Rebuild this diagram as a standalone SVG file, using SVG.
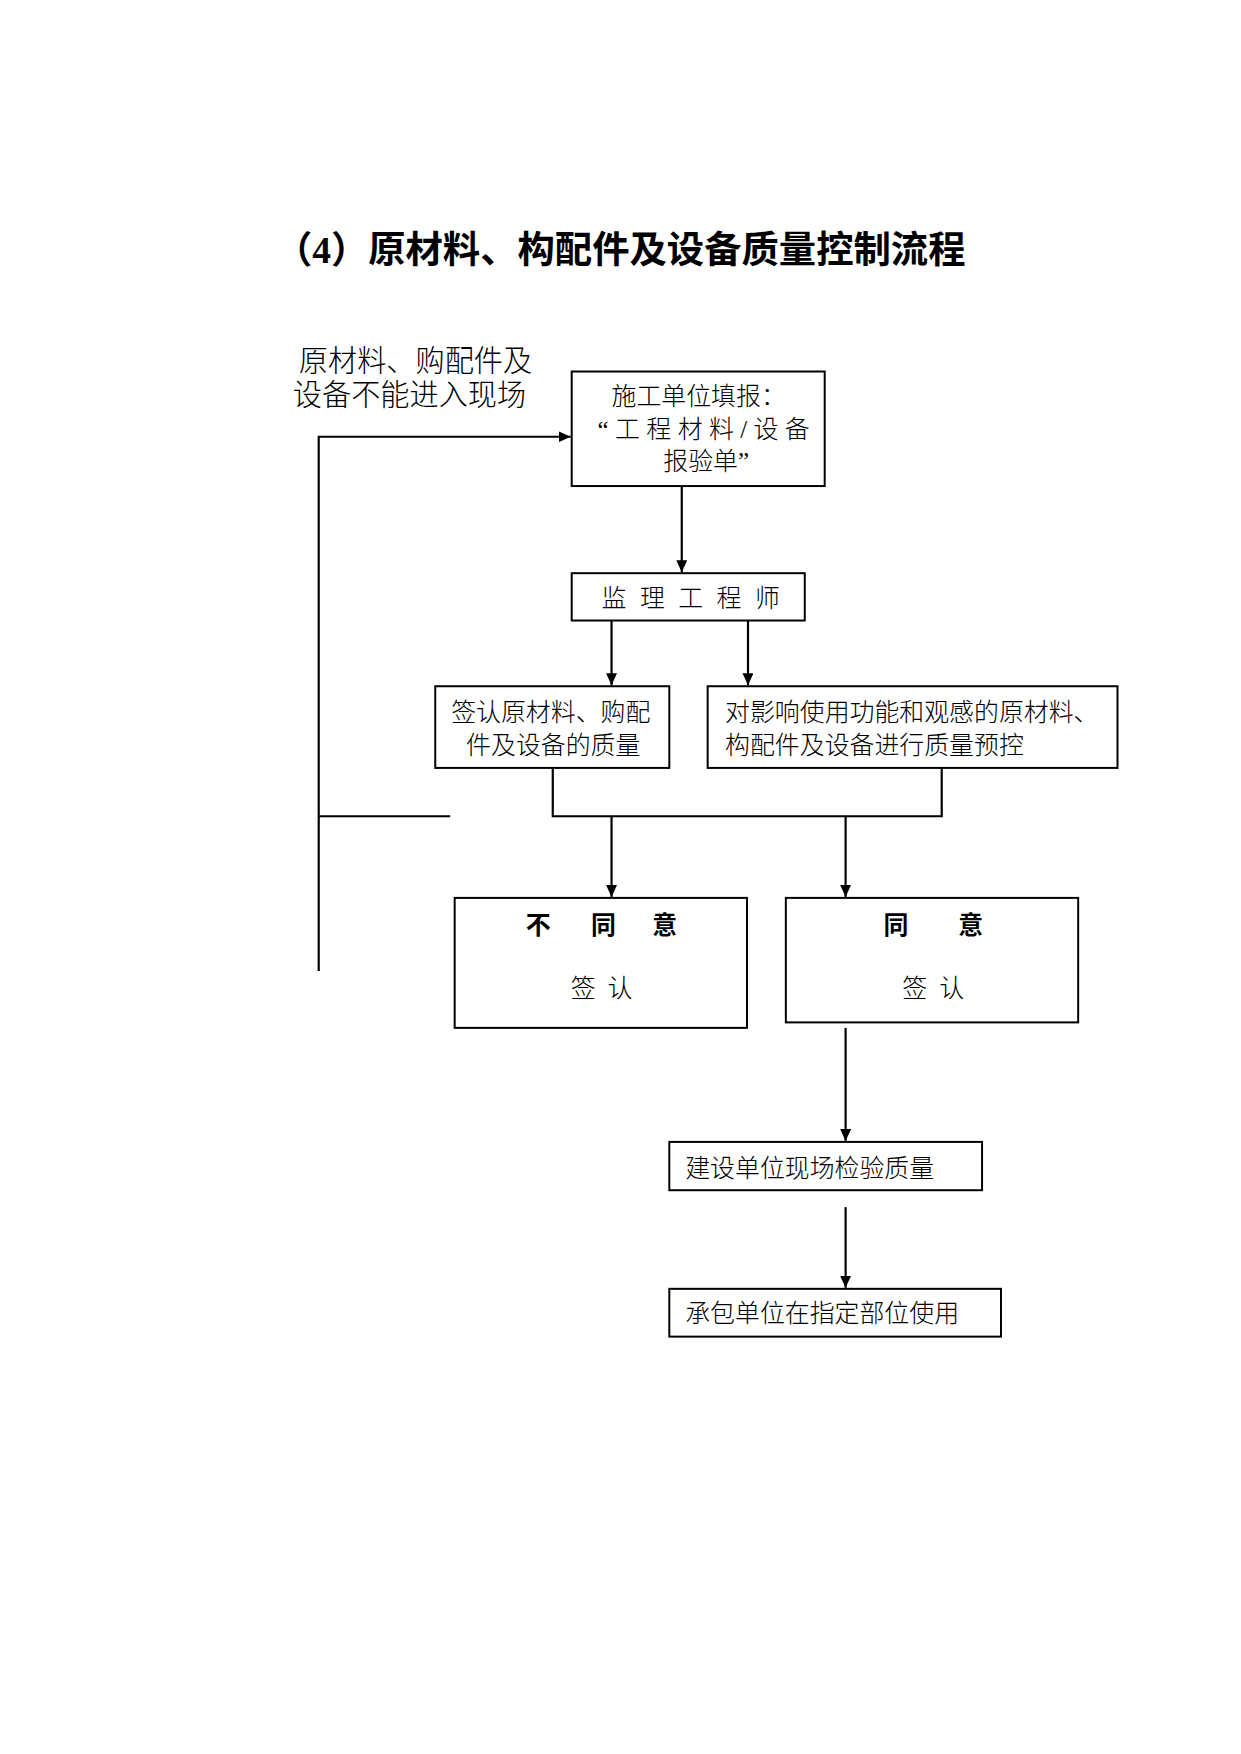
<svg xmlns="http://www.w3.org/2000/svg" width="1241" height="1754" viewBox="0 0 1241 1754">
<defs>
<marker id="ah" markerWidth="13" markerHeight="12" refX="12" refY="5.5" orient="auto" markerUnits="userSpaceOnUse">
<path d="M0,0 L12,5.5 L0,11 Z" fill="#000"/>
</marker>
<style>
.t{font-family:"Liberation Serif","Noto Sans CJK SC",serif;fill:#000;}
.n{font-size:25px;font-weight:300;}
.b{font-weight:bold;}
.box{fill:#fff;stroke:#000;stroke-width:2;}
.ln{fill:none;stroke:#000;stroke-width:2.2;}
.arr{fill:none;stroke:#000;stroke-width:2.2;marker-end:url(#ah);}
</style>
</defs>
<rect width="1241" height="1754" fill="#fff"/>
<g transform="scale(0.996)">
<text class="t" x="276" y="264" font-size="37.5" font-weight="bold">（4）原材料、构配件及设备质量控制流程</text>
<g id="label-reject">
<text class="t" x="300" y="373" font-size="29.3" font-weight="300">原材料、购配件及</text>
<text class="t" x="294" y="407" font-size="29.3" font-weight="300">设备不能进入现场</text>
</g>
<g id="connectors">
<polyline class="arr" points="320,975 320,438.5 573,438.5"/>
<line class="ln" x1="320" y1="819.5" x2="452" y2="819.5"/>
<line class="arr" x1="684.5" y1="488" x2="684.5" y2="574.5"/>
<line class="arr" x1="614" y1="623" x2="614" y2="688"/>
<line class="arr" x1="751" y1="623" x2="751" y2="688"/>
<polyline class="ln" points="555,771 555,819.5 945.5,819.5 945.5,771"/>
<line class="arr" x1="614" y1="819.5" x2="614" y2="900.5"/>
<line class="arr" x1="849" y1="819.5" x2="849" y2="900.5"/>
<line class="arr" x1="849" y1="1032" x2="849" y2="1145.5"/>
<line class="arr" x1="849" y1="1212" x2="849" y2="1293"/>
</g>
<g id="n1">
<rect class="box" x="574" y="373" width="254" height="115"/>
<text class="t n" x="614" y="407">施工单位填报：</text>
<text class="t n" x="600" y="440" textLength="213" lengthAdjust="spacing">“工程材料/设备</text>
<text class="t n" x="666" y="472">报验单”</text>
</g>
<g id="n2">
<rect class="box" x="574" y="575.5" width="234" height="47.5"/>
<text class="t n" x="604" y="609" letter-spacing="13.5">监理工程师</text>
</g>
<g id="n3">
<rect class="box" x="437" y="689" width="235" height="82"/>
<text class="t n" x="453" y="724">签认原材料、购配</text>
<text class="t n" x="468" y="757">件及设备的质量</text>
</g>
<g id="n4">
<rect class="box" x="710.5" y="689" width="411.5" height="82"/>
<text class="t n" x="728" y="724">对影响使用功能和观感的原材料、</text>
<text class="t n" x="728" y="757">构配件及设备进行质量预控</text>
</g>
<g id="n5">
<rect class="box" x="456.5" y="901.5" width="293.5" height="130.5"/>
<text class="t n b" x="528" y="937.5">不</text>
<text class="t n b" x="593.5" y="937.5">同</text>
<text class="t n b" x="655" y="937.5">意</text>
<text class="t n" x="573" y="1001.5">签</text>
<text class="t n" x="610" y="1001.5">认</text>
</g>
<g id="n6">
<rect class="box" x="789" y="901.5" width="293.5" height="125"/>
<text class="t n b" x="887" y="937.5">同</text>
<text class="t n b" x="962" y="937.5">意</text>
<text class="t n" x="906" y="1001.5">签</text>
<text class="t n" x="943" y="1001.5">认</text>
</g>
<g id="n7">
<rect class="box" x="672" y="1146.5" width="314" height="48.5"/>
<text class="t n" x="688" y="1181.5">建设单位现场检验质量</text>
</g>
<g id="n8">
<rect class="box" x="672" y="1294" width="333" height="48"/>
<text class="t n" x="688" y="1327.5">承包单位在指定部位使用</text>
</g>
</g>
</svg>
